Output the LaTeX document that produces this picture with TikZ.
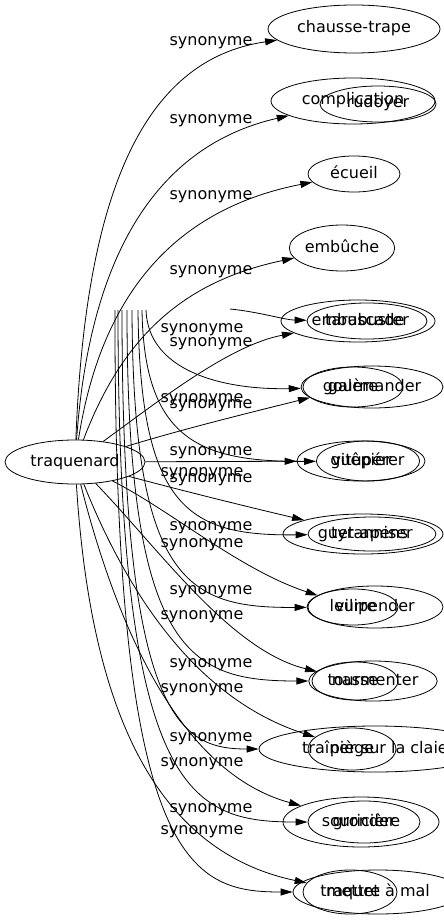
\documentclass[tikz,border=0pt]{standalone}
\usepackage{fontspec}
\setmainfont{DejaVu Sans}
\usetikzlibrary{shapes.geometric,arrows.meta}

\begin{document}
\begin{tikzpicture}[x=1pt,y=-1pt,
  word/.style={draw, ellipse, inner sep=0pt, line width=.8pt, text height=11.5pt, text depth=3.5pt, font=\fontsize{16}{19}\selectfont},
  syn/.style={inner sep=0pt, text height=11.5pt, text depth=3.5pt, font=\fontsize{16}{19}\selectfont},
  arrow/.style={-{Triangle[length=12pt,width=7pt]}, line width=.8pt}]
\useasboundingbox (0,0) rectangle (444,923);

% CENTRE
\node [word, minimum width=140pt, minimum height=44pt] (tq) at (75,462) {traquenard};

% NOUNS
\node [word, minimum width=172pt, minimum height=48pt] (chaussetrape) at (354,29) {chausse-trape};
\node [word, minimum width=164pt, minimum height=46pt] (complication) at (353,101) {complication};
\node [word, minimum width=92pt, minimum height=36pt] (ecueil) at (354,174) {écueil};
\node [word, minimum width=104pt, minimum height=46pt] (embuche) at (342,248) {embûche};
\node [word, minimum width=154pt, minimum height=42pt] (embuscade) at (358,321) {embuscade};
\node [word, minimum width=100pt, minimum height=40pt] (galere) at (353,387) {galère};
\node [word, minimum width=128pt, minimum height=40pt] (guepier) at (361,461) {guêpier};
\node [word, minimum width=160pt, minimum height=40pt] (guetapens) at (363,534) {guet-apens};
\node [word, minimum width=90pt, minimum height=36pt] (leurre) at (353,607) {leurre};
\node [word, minimum width=86pt, minimum height=38pt] (nasse) at (355,681) {nasse};
\node [word, minimum width=88pt, minimum height=42pt] (piege) at (352,749) {piège};
\node [word, minimum width=156pt, minimum height=50pt] (souriciere) at (361,822) {souricière};
\node [word, minimum width=94pt, minimum height=44pt] (traquet) at (350,892) {traquet};

% VERBS
\node [word, minimum width=116pt, minimum height=36pt] (rudoyer) at (378,104) {rudoyer};
\node [word, minimum width=120pt, minimum height=36pt] (tarabuster) at (367,321) {tarabuster};
\node [word, minimum width=142pt, minimum height=42pt] (gourmander) at (372,387) {gourmander};
\node [word, minimum width=90pt, minimum height=40pt] (vituperer) at (368,461) {vitupérer};
\node [word, minimum width=128pt, minimum height=34pt] (tyranniser) at (372,534) {tyranniser};
\node [word, minimum width=136pt, minimum height=42pt] (vilipender) at (375,607) {vilipender};
\node [word, minimum width=124pt, minimum height=40pt] (tourmenter) at (373,681) {tourmenter};
\node [word, minimum width=232pt, minimum height=46pt] (trainer) at (375,749) {traîner sur la claie};
\node [word, minimum width=112pt, minimum height=42pt] (gronder) at (364,822) {gronder};
\node [word, minimum width=170pt, minimum height=44pt] (mettre) at (378,892) {mettre à mal};

% TAILS OF THE VERB EDGES
\coordinate (t2) at (230,309);
\coordinate (t3) at (146,310);
\coordinate (t4) at (142,310);
\coordinate (t5) at (138,310);
\coordinate (t6) at (132,310);
\coordinate (t7) at (127,310);
\coordinate (t8) at (122,310);
\coordinate (t9) at (118,310);
\coordinate (t10) at (115,310);

% EDGES TO THE NOUNS
\draw [arrow] (tq) .. controls (85,200) and (140,60) .. (chaussetrape);
\draw [arrow] (tq) .. controls (90,250) and (160,145) .. (complication);
\draw [arrow] (tq) .. controls (100,300) and (170,210) .. (ecueil);
\draw [arrow] (tq) .. controls (125,330) and (190,280) .. (embuche);
\draw [arrow] (tq) .. controls (160,400) and (230,345) .. (embuscade);
\draw [arrow] (tq) .. controls (180,430) and (240,415) .. (galere);
\draw [arrow] (tq) -- (guepier);
\draw [arrow] (tq) .. controls (180,490) and (240,505) .. (guetapens);
\draw [arrow] (tq) .. controls (170,510) and (240,570) .. (leurre);
\draw [arrow] (tq) .. controls (160,550) and (230,650) .. (nasse);
\draw [arrow] (tq) .. controls (130,600) and (200,700) .. (piege);
\draw [arrow] (tq) .. controls (110,600) and (170,770) .. (souriciere);
\draw [arrow] (tq) .. controls (90,700) and (150,850) .. (traquet);

% EDGES TO THE VERBS
\draw [arrow] (t2) .. controls (260,312) and (285,320) .. (tarabuster);
\draw [arrow] (t3) .. controls (148,370) and (220,390) .. (gourmander);
\draw [arrow] (t4) .. controls (144,440) and (200,462) .. (vituperer);
\draw [arrow] (t5) .. controls (140,510) and (190,536) .. (tyranniser);
\draw [arrow] (t6) .. controls (133,585) and (190,608) .. (vilipender);
\draw [arrow] (t7) .. controls (127,655) and (190,681) .. (tourmenter);
\draw [arrow] (t8) .. controls (122,720) and (180,749) .. (trainer);
\draw [arrow] (t9) .. controls (118,795) and (190,822) .. (gronder);
\draw [arrow] (t10) .. controls (114,865) and (190,892) .. (mettre);

% EDGE LABELS
\node [syn] (s1) at (211,42) {synonyme};
\node [syn] (s2) at (211,120) {synonyme};
\node [syn] (s3) at (211,195) {synonyme};
\node [syn] (s4) at (211,270) {synonyme};
\node [syn] (s5) at (211,342) {synonyme};
\node [syn] (s6) at (211,404) {synonyme};
\node [syn] (s7) at (211,451) {synonyme};
\node [syn] (s8) at (211,478) {synonyme};
\node [syn] (s9) at (211,526) {synonyme};
\node [syn] (s10) at (211,590) {synonyme};
\node [syn] (s11) at (211,663) {synonyme};
\node [syn] (s12) at (211,737) {synonyme};
\node [syn] (s13) at (211,808) {synonyme};
\node [syn] (v2) at (202,328) {synonyme};
\node [syn] (v3) at (202,398) {synonyme};
\node [syn] (v4) at (202,472) {synonyme};
\node [syn] (v5) at (202,543) {synonyme};
\node [syn] (v6) at (202,615) {synonyme};
\node [syn] (v7) at (202,688) {synonyme};
\node [syn] (v8) at (202,762) {synonyme};
\node [syn] (v9) at (202,830) {synonyme};
\end{tikzpicture}
\end{document}
